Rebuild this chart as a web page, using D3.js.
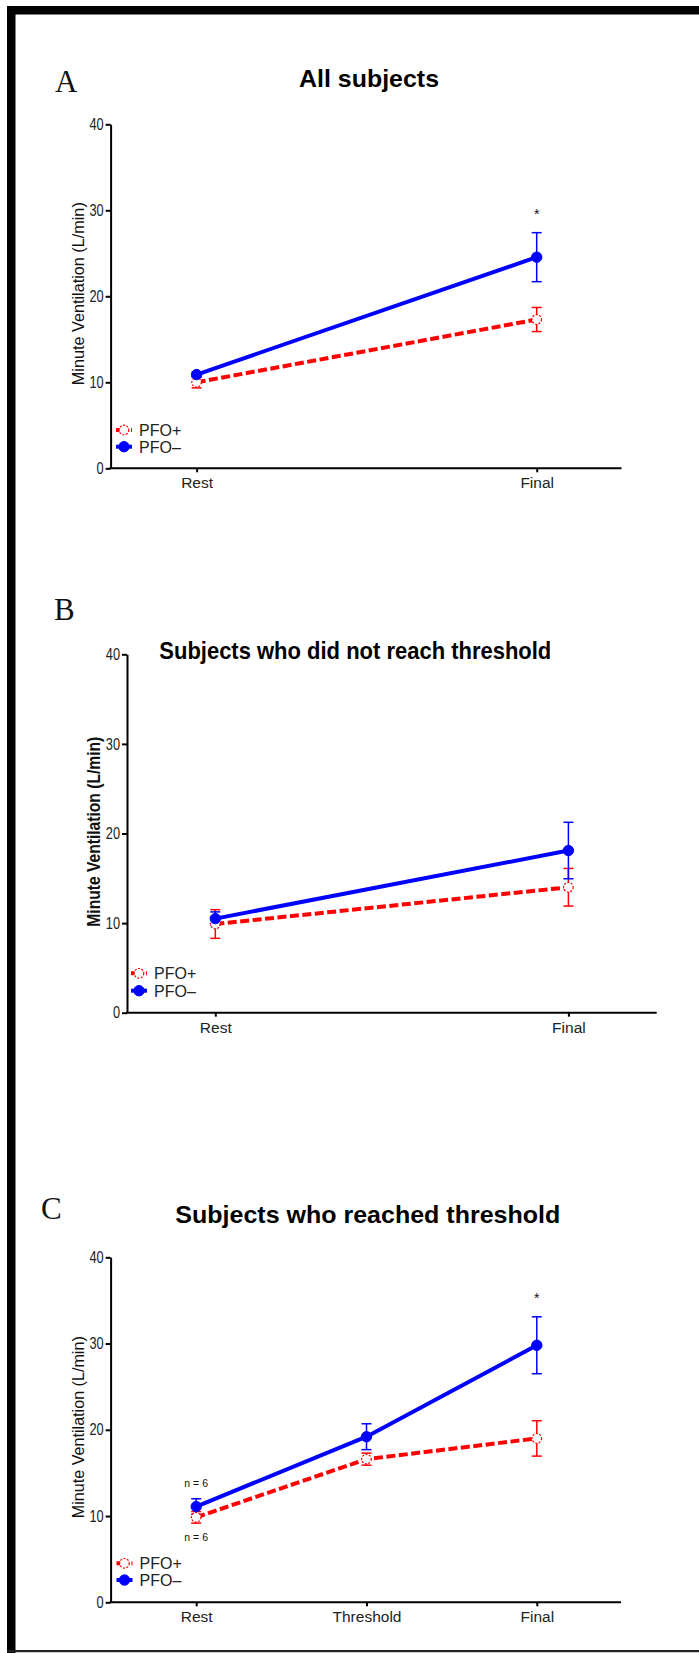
<!DOCTYPE html>
<html>
<head>
<meta charset="utf-8">
<script src="https://cdn.jsdelivr.net/npm/d3@7"></script>
<style>
    body { margin: 0; background: #fff; }
    svg { display: block; }
    .tick-y text { font-family: "Liberation Sans", Arial, sans-serif; font-size: 16px; fill: #222; }
    .tick-x text { font-family: "Liberation Sans", Arial, sans-serif; font-size: 15.5px; fill: #222; }
</style>
</head>
<body>
<div class="container"></div>
<script>
// chart values
const groups = ["PFO+", "PFO\u2013"];
const yTicks = [0, 10, 20, 30, 40];

// panel A - all subjects
const catsA = ["Rest", "Final"];
const plusA = [10.0, 17.3];
const plusErrA = [0.65, 1.4];
const minusA = [10.9, 24.55];
const minusErrA = [0.3, 2.85];

// panel B - did not reach threshold
const catsB = ["Rest", "Final"];
const plusB = [9.9, 14.0];
const plusErrB = [1.6, 2.1];
const minusB = [10.5, 18.1];
const minusErrB = [0.75, 3.15];

// panel C - reached threshold
const catsC = ["Rest", "Threshold", "Final"];
const plusC = [9.85, 16.6, 19.0];
const plusErrC = [0.67, 0.7, 2.05];
const minusC = [11.1, 19.2, 29.8];
const minusErrC = [0.9, 1.5, 3.3];

// significance stars and n labels (category, value, text)
const starsA = [["Final", 29.8, "*"]];
const starsC = [["Final", 35.5, "*"]];
const notesC = [["Rest", 13.4, "n = 6"], ["Rest", 7.05, "n = 6"]];

const w = 699;
const h = 1653;
const red = "#ff0000";
const blue = "#0000ff";
// horizontal squeeze used for the narrow tick numbers
const narrow = 0.8;

const svg = d3.select(".container")
    .append("svg")
    .attr("width", w)
    .attr("height", h);

svg.append("rect").attr("width", w).attr("height", h).attr("fill", "#fff");

// frame: thick left and top, thin bottom
svg.append("rect").attr("x", 7).attr("y", 6).attr("width", 8.5).attr("height", h - 6).attr("fill", "#000");
svg.append("rect").attr("x", 7).attr("y", 6).attr("width", w - 7).attr("height", 8.5).attr("fill", "#000");
svg.append("rect").attr("x", 7).attr("y", h - 3).attr("width", w - 7).attr("height", 2.2).attr("fill", "#222");

function drawPanel(p) {
    const g = svg.append("g");

    const y = d3.scaleLinear().domain([0, 40]).range([p.bottom, p.top]);
    const x = d3.scalePoint().domain(p.cats).range([p.first, p.last]);

    // panel letter
    g.append("text")
        .attr("x", p.letterX).attr("y", p.letterY)
        .attr("font-family", "Liberation Serif, 'DejaVu Serif', serif")
        .attr("font-size", 31)
        .attr("fill", "#111")
        .text(p.letter);

    // title
    g.append("text")
        .attr("x", p.titleX).attr("y", p.titleY)
        .attr("text-anchor", "middle")
        .attr("font-family", "Liberation Sans, Arial, sans-serif")
        .attr("font-weight", "bold")
        .attr("font-size", 24.5)
        .attr("textLength", p.titleLen)
        .attr("lengthAdjust", "spacingAndGlyphs")
        .attr("fill", "#000")
        .text(p.title);

    // y axis
    g.append("g")
        .attr("class", "tick-y")
        .attr("transform", `translate(${p.axisX},0)`)
        .call(d3.axisLeft(y).tickValues(yTicks).tickSize(5).tickSizeOuter(0).tickPadding(2))
        .call(a => a.selectAll("line, path").attr("stroke", "#000").attr("stroke-width", 2))
        .call(a => a.selectAll("text")
            .attr("x", -7 / narrow)
            .attr("transform", `scale(${narrow},1)`));

    // x axis: baseline from the y axis to the right end, ticks at categories
    g.append("line")
        .attr("x1", p.axisX - 1).attr("x2", p.axisEnd)
        .attr("y1", p.bottom).attr("y2", p.bottom)
        .attr("stroke", "#000").attr("stroke-width", 2);
    g.append("g")
        .attr("class", "tick-x")
        .attr("transform", `translate(0,${p.bottom})`)
        .call(d3.axisBottom(x).tickSize(4).tickPadding(5))
        .call(a => a.select(".domain").remove())
        .call(a => a.selectAll("line").attr("stroke", "#000").attr("stroke-width", 2));

    // y label
    g.append("text")
        .attr("transform", `translate(${p.labelX},${y(p.labelMid)}) rotate(-90)`)
        .attr("text-anchor", "middle")
        .attr("font-family", "Liberation Sans, Arial, sans-serif")
        .attr("font-size", p.labelBold ? 17.5 : 16)
        .attr("font-weight", p.labelBold ? "bold" : "normal")
        .attr("textLength", p.labelLen)
        .attr("lengthAdjust", "spacingAndGlyphs")
        .attr("fill", "#111")
        .text("Minute Ventilation (L/min)");

    const series = [
        { name: groups[0], vals: p.plus, errs: p.plusErr, color: red, dash: "9,3.5", open: true },
        { name: groups[1], vals: p.minus, errs: p.minusErr, color: blue, dash: null, open: false }
    ];

    // error bars
    series.forEach(s => {
        const eb = g.append("g").selectAll("g")
            .data(p.cats.map((c, i) => ({ c, v: s.vals[i], e: s.errs[i] })))
            .enter().append("g")
            .attr("stroke", s.color).attr("stroke-width", 1.5).attr("fill", "none");
        eb.append("line")
            .attr("x1", d => x(d.c)).attr("x2", d => x(d.c))
            .attr("y1", d => y(d.v - d.e)).attr("y2", d => y(d.v + d.e));
        eb.append("line")
            .attr("x1", d => x(d.c) - 5).attr("x2", d => x(d.c) + 5)
            .attr("y1", d => y(d.v + d.e)).attr("y2", d => y(d.v + d.e));
        eb.append("line")
            .attr("x1", d => x(d.c) - 5).attr("x2", d => x(d.c) + 5)
            .attr("y1", d => y(d.v - d.e)).attr("y2", d => y(d.v - d.e));
    });

    // lines
    const line = d3.line().x(d => x(d.c)).y(d => y(d.v));
    series.forEach(s => {
        g.append("path")
            .datum(p.cats.map((c, i) => ({ c, v: s.vals[i] })))
            .attr("d", line)
            .attr("fill", "none")
            .attr("stroke", s.color)
            .attr("stroke-width", 4)
            .attr("stroke-dasharray", s.dash);
    });

    // markers
    series.forEach(s => {
        g.append("g").selectAll("circle")
            .data(p.cats.map((c, i) => ({ c, v: s.vals[i] })))
            .enter().append("circle")
            .attr("cx", d => x(d.c)).attr("cy", d => y(d.v))
            .attr("r", s.open ? 4.8 : 5.2)
            .attr("fill", s.open ? "#fff" : s.color)
            .attr("stroke", s.color)
            .attr("stroke-width", s.open ? 1.2 : 1)
            .attr("stroke-dasharray", s.open ? "2,1.5" : null);
    });

    // stars and notes
    g.selectAll(".star")
        .data(p.stars || [])
        .enter().append("text")
        .attr("x", d => x(d[0])).attr("y", d => y(d[1]) + 7)
        .attr("text-anchor", "middle")
        .attr("font-family", "Liberation Sans, Arial, sans-serif")
        .attr("font-size", 14)
        .attr("fill", "#111")
        .text(d => d[2]);
    g.selectAll(".note")
        .data(p.notes || [])
        .enter().append("text")
        .attr("x", d => x(d[0])).attr("y", d => y(d[1]))
        .attr("text-anchor", "middle")
        .attr("font-family", "Liberation Sans, Arial, sans-serif")
        .attr("font-size", 10.5)
        .attr("fill", "#111")
        .text(d => d[2]);

    // legend
    const lg = g.append("g").selectAll("g")
        .data(series)
        .enter().append("g")
        .attr("transform", (d, i) => `translate(${p.legX},${p.legY + i * p.legStep})`);
    lg.append("line")
        .attr("x1", -8).attr("x2", 8)
        .attr("stroke", d => d.color).attr("stroke-width", 4)
        .attr("stroke-dasharray", d => d.dash ? "5,2.5" : null);
    lg.append("circle")
        .attr("r", d => d.open ? 4.8 : 5.2)
        .attr("fill", d => d.open ? "#fff" : d.color)
        .attr("stroke", d => d.color)
        .attr("stroke-width", d => d.open ? 1.2 : 1)
        .attr("stroke-dasharray", d => d.open ? "2,1.5" : null);
    lg.append("text")
        .attr("x", 15).attr("y", 5.8)
        .attr("font-family", "Liberation Sans, Arial, sans-serif")
        .attr("font-size", 16)
        .attr("fill", "#222")
        .text(d => d.name);
}

drawPanel({
    letter: "A", letterX: 55, letterY: 91.5,
    title: "All subjects", titleX: 369, titleY: 87, titleLen: 140,
    cats: catsA, plus: plusA, plusErr: plusErrA, minus: minusA, minusErr: minusErrA,
    top: 124.3, bottom: 468.3, axisX: 110.6, axisEnd: 621.5, first: 196.6, last: 536.7,
    labelX: 84, labelMid: 20.3, labelLen: 183, labelBold: false,
    legX: 124, legY: 430, legStep: 16.7,
    stars: starsA
});

drawPanel({
    letter: "B", letterX: 54, letterY: 620,
    title: "Subjects who did not reach threshold", titleX: 355.3, titleY: 659, titleLen: 392,
    cats: catsB, plus: plusB, plusErr: plusErrB, minus: minusB, minusErr: minusErrB,
    top: 654.3, bottom: 1012.7, axisX: 127, axisEnd: 656.7, first: 215.3, last: 568.4,
    labelX: 99.5, labelMid: 20.2, labelLen: 190, labelBold: true,
    legX: 139, legY: 973.3, legStep: 17.4
});

drawPanel({
    letter: "C", letterX: 41, letterY: 1219,
    title: "Subjects who reached threshold", titleX: 367.8, titleY: 1223, titleLen: 385,
    cats: catsC, plus: plusC, plusErr: plusErrC, minus: minusC, minusErr: minusErrC,
    top: 1257.3, bottom: 1602.3, axisX: 110.6, axisEnd: 621, first: 196.2, last: 536.8,
    labelX: 83.5, labelMid: 20.3, labelLen: 182, labelBold: false,
    legX: 124.5, legY: 1563.3, legStep: 16.7,
    stars: starsC, notes: notesC
});
</script>
</body>
</html>
